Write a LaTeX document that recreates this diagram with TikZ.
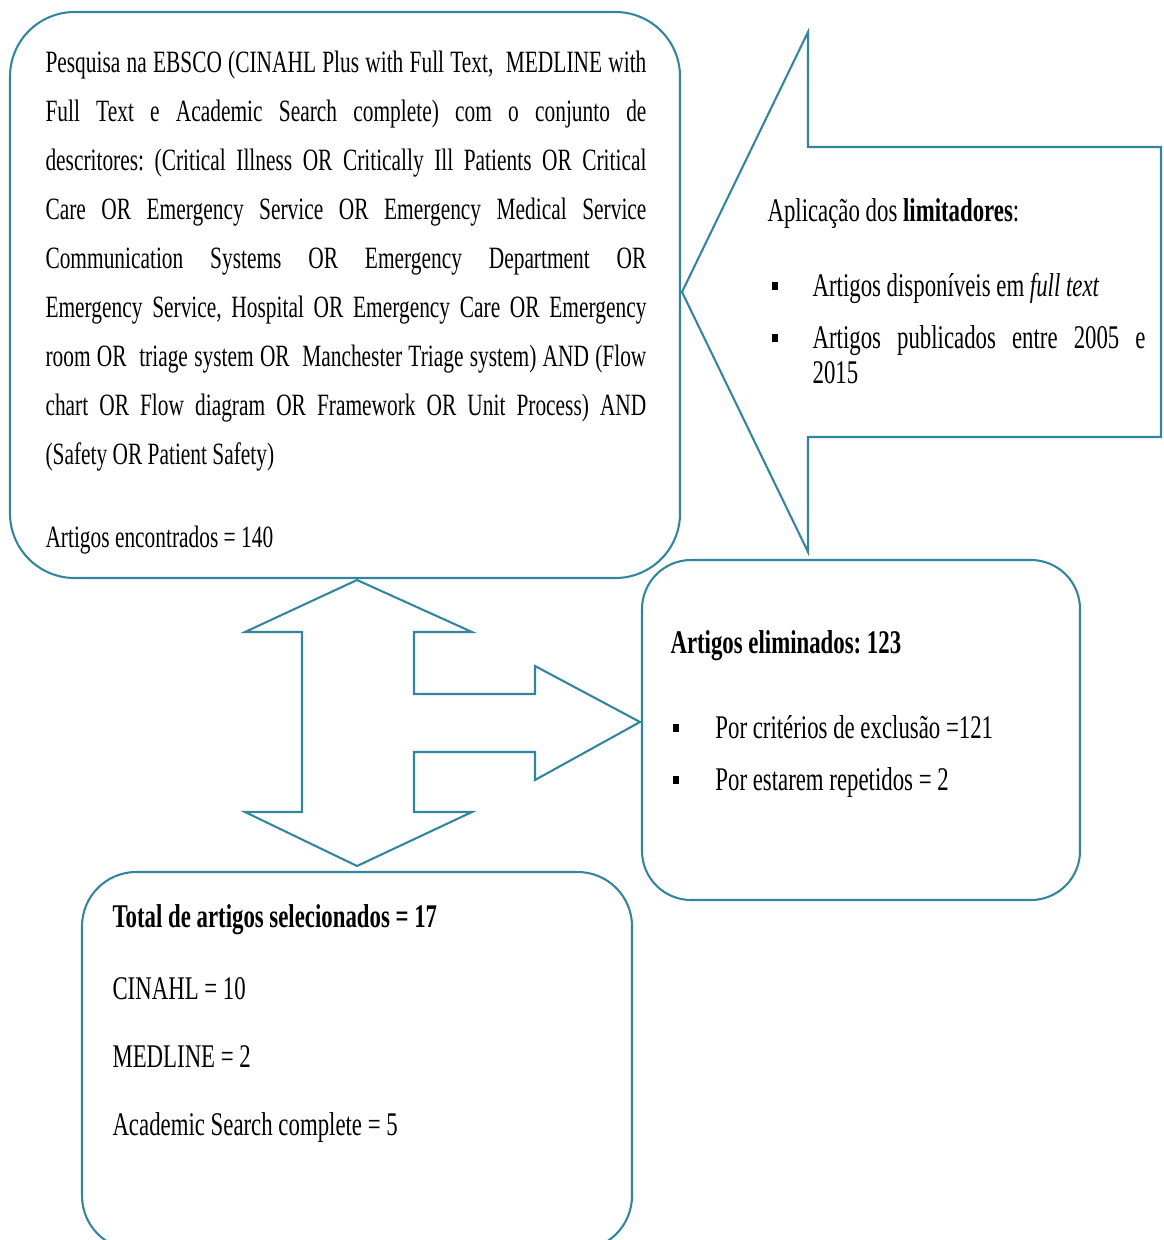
\documentclass[tikz,border=0pt]{standalone}
\usepackage{fontspec}
\setmainfont[FakeStretch=0.69]{Liberation Serif}
\definecolor{boxblue}{RGB}{49,133,156}
\newcommand{\bsq}{\raisebox{2.5pt}{\rule{2.5pt}{3pt}}}
\frenchspacing

\begin{document}
\begin{tikzpicture}[x=0.3871pt, y=-0.3871pt,
	roundbox/.style={draw=boxblue, line width=0.8pt},
	txt/.style={anchor=base west, inner sep=0pt, font=\fontsize{12.8pt}{14.5pt}\selectfont},
	para/.style={anchor=north west, inner sep=0pt, align=justify}]

	% page size of the reference, in pixels
	\useasboundingbox (0,0) rectangle (1163,1240);

	% search box with the query
	\draw[roundbox, rounded corners=25pt] (10,12) rectangle (680,578);
	\node[para, text width=232.6pt, font=\fontsize{12pt}{18.97pt}\selectfont] (search) at (45,46.2) {\rule{0pt}{10pt}Pesquisa na EBSCO (CINAHL Plus with Full Text,\ \ MEDLINE with\linebreak
	Full Text e Academic Search complete) com o conjunto de\linebreak
	descritores: (Critical Illness OR Critically Ill Patients OR Critical\linebreak
	Care OR Emergency Service OR Emergency Medical Service\linebreak
	Communication Systems OR Emergency Department OR\linebreak
	Emergency Service, Hospital OR Emergency Care OR Emergency\linebreak
	room OR\ \ triage system OR\ \ Manchester Triage system) AND (Flow\linebreak
	chart OR Flow diagram OR Framework OR Unit Process) AND\linebreak
	(Safety OR Patient Safety)};
	\node[txt, font=\fontsize{12pt}{14pt}\selectfont] (found) at (45,547) {Artigos encontrados = 140};

	% callout arrow with the limiters
	\draw[roundbox, line join=miter] (682,292) -- (808,32) -- (808,147) -- (1161,147) -- (1161,437) -- (808,437) -- (808,552) -- cycle;
	\node[txt] (limits) at (767,222) {Aplicação dos \textbf{limitadores}:};
	\node[txt] (fulltext) at (771,296) {\makebox[15.9pt][l]{\bsq}Artigos disponíveis em \textit{full text}};
	\node[para, text width=144.8pt, font=\fontsize{12.8pt}{13.55pt}\selectfont] (years) at (771,322.2) {\rule{0pt}{10pt}\makebox[15.9pt][l]{\bsq}Artigos publicados entre 2005 e\linebreak\hspace*{15.9pt}2015};

	% up/down and right block arrow
	\draw[roundbox, line join=miter] (357,580) -- (472,632) -- (414,632) -- (414,694) -- (535,694) -- (535,666) -- (640,722) -- (535,780) -- (535,752) -- (414,752) -- (414,812) -- (472,812) -- (357,866) -- (245,812) -- (302,812) -- (302,632) -- (245,632) -- cycle;

	% removed articles
	\draw[roundbox, rounded corners=19pt] (642,560) rectangle (1080,900);
	\node[txt] (removed) at (670,653) {\textbf{Artigos eliminados: 123}};
	\node[txt] (excl) at (672,738) {\makebox[16.6pt][l]{\bsq}Por critérios de exclusão =121};
	\node[txt] (dupl) at (672,790) {\makebox[16.6pt][l]{\bsq}Por estarem repetidos = 2};

	% selected articles, box runs past the bottom edge
	\draw[roundbox, rounded corners=21pt] (82,872) rectangle (632,1250);
	\node[txt] (total) at (112,927) {\textbf{Total de artigos selecionados = 17}};
	\node[txt] (cinahl) at (112,999) {CINAHL = 10};
	\node[txt] (medline) at (112,1067) {MEDLINE = 2};
	\node[txt] (academic) at (112,1135) {Academic Search complete = 5};

\end{tikzpicture}
\end{document}
